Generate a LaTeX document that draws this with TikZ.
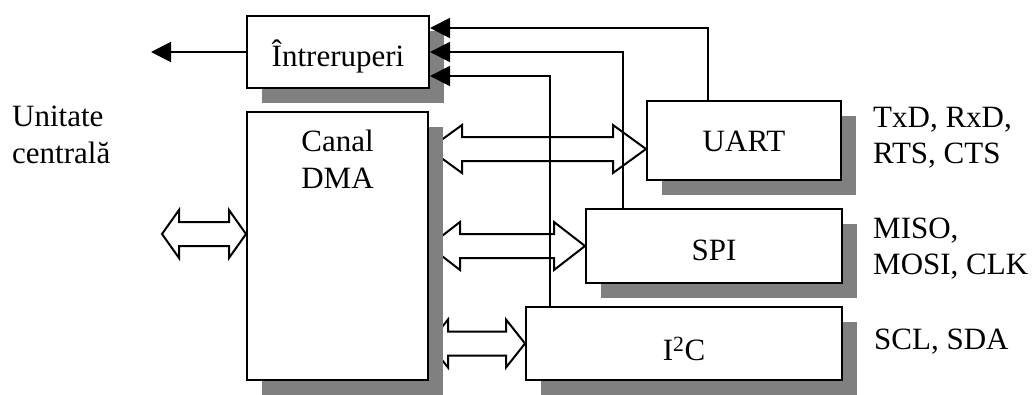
\documentclass[tikz,border=0pt]{standalone}
\usepackage{fontspec}
\setmainfont{Liberation Serif}
\usetikzlibrary{arrows.meta, calc, shadows, backgrounds}
\tikzstyle{box} = [rectangle, draw, line width = 2pt, fill = white, inner sep = 0pt, drop shadow = {shadow xshift = 15pt, shadow yshift = -15pt, fill = black!50, opacity = 1}]
\tikzstyle{txt} = [inner sep = 0pt, font = \fontsize{31}{36.5}\selectfont]
\tikzstyle{wire} = [line width = 2pt, -{Triangle[length = 20pt, width = 20pt]}]
\tikzset{fat/.style = {line width = 2pt, to path = {let \p1 = (\tikztostart), \p2 = (\tikztotarget) in
    (\x1, \y1) -- (\x1 + #1, \y1 + 24pt) -- (\x1 + #1, \y1 + 12pt) -- (\x2 - #1, \y1 + 12pt) -- (\x2 - #1, \y1 + 24pt)
    -- (\x2, \y1) -- (\x2 - #1, \y1 - 24pt) -- (\x2 - #1, \y1 - 12pt) -- (\x1 + #1, \y1 - 12pt) -- (\x1 + #1, \y1 - 24pt) -- cycle}}}

\begin{document}
\begin{tikzpicture}[x = 1pt, y = -1pt]
        \useasboundingbox (0, 0) rectangle (1035, 394);
        % draw nodes
        \node[box, minimum width = 182pt, minimum height = 72pt,
            label = {[txt, name = intr text, anchor = base, yshift = -4pt]center:Întreruperi}] (intr) at (338, 52) {};
        \node[box, minimum width = 181pt, minimum height = 268pt,
            label = {[txt, name = dma text, align = center, anchor = north, yshift = -19pt]north:Canal\\DMA}] (dma) at (337.5, 246) {};
        \node[box, minimum width = 194pt, minimum height = 79pt,
            label = {[txt, name = uart text, anchor = base, yshift = -0.5pt]center:UART}] (uart) at (744, 140.5) {};
        \node[box, minimum width = 256pt, minimum height = 74pt,
            label = {[txt, name = spi text, anchor = base, yshift = -4pt]center:SPI}] (spi) at (714, 246) {};
        \node[box, minimum width = 316pt, minimum height = 73pt,
            label = {[txt, name = i2c text, anchor = base, yshift = -5.5pt]center:I\textsuperscript{2}C}] (i2c) at (684, 343.5) {};
        % draw texts
        \node[txt, anchor = north west, align = left] (cpu) at (12, 106) {Unitate\\centrală};
        \node[txt, anchor = north west, align = left] (uart pins) at (873, 106.5) {TxD, RxD,\\RTS, CTS};
        \node[txt, anchor = north west, align = left] (spi pins) at (873, 217.5) {MISO,\\MOSI, CLK};
        \node[txt, anchor = base west] (i2c pins) at (874, 349) {SCL, SDA};
        
        % draw interrupt lines
        \coordinate (cpu irq) at (151, 52);
        \draw[wire] (intr.west) -- (cpu irq);
        \draw[wire] ([xshift = -36pt]uart.north) |- ([yshift = 24pt]intr.east);
        \draw[wire] ([xshift = -91pt]spi.north) |- (intr.east);
        \draw[wire] ([xshift = -134pt]i2c.north) |- ([yshift = -24pt]intr.east);
        
        % draw buses
        \coordinate (uart bus) at ([yshift = -8.5pt]uart.west);
        \coordinate (cpu bus) at (162, 234);
        \begin{pgfonlayer}{background}
            \draw[fat = 17pt] (cpu bus) to (cpu bus -| dma.west);
            \draw[fat = 33pt] (uart bus -| dma.east) to (uart bus);
            \draw[fat = 31pt] (dma.east |- spi.west) to (spi.west);
            \draw[fat = 19pt] (dma.east |- i2c.west) to (i2c.west);
        \end{pgfonlayer}
    \end{tikzpicture}
\end{document}
